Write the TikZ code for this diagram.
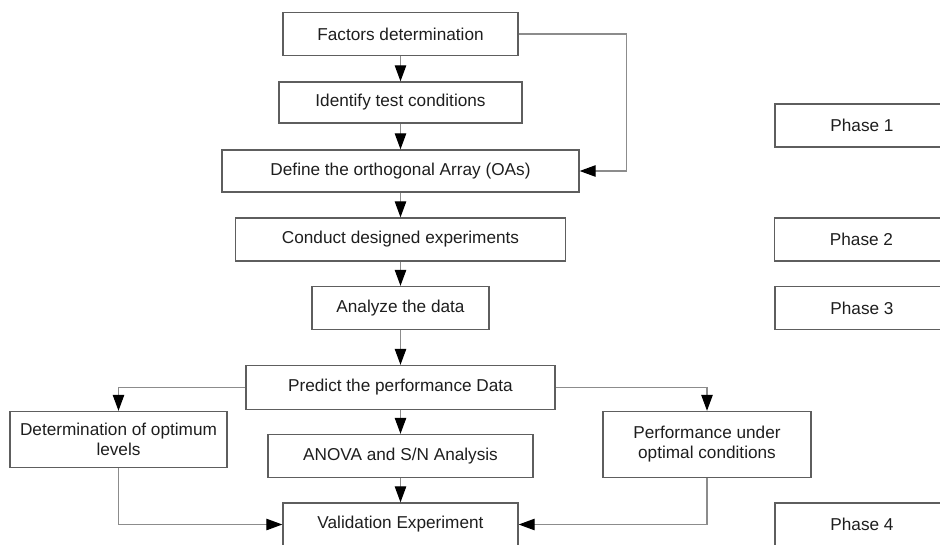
\documentclass[tikz,border=0pt]{standalone}
\usepackage{fontspec}
\setmainfont{Liberation Sans}
\usepackage{tikz}
\usetikzlibrary{shapes,arrows.meta,positioning}
\definecolor{boxgray}{HTML}{5E5E5E}
\definecolor{linegray}{HTML}{8C8C8C}
\definecolor{textgray}{HTML}{1E1E1E}
\tikzstyle{block} = [rectangle, draw=boxgray, line width=1.4pt, text=textgray,
    align=center, minimum height=43pt, inner sep=2pt,
    font=\fontsize{17.2}{20}\selectfont]
\tikzstyle{phaseblock} = [block, minimum width=174pt]
\tikzstyle{arrow} = [draw=linegray, line width=1.1pt,
    -{Triangle[length=16pt, width=11.5pt, color=black]}]

\begin{document}
\begin{tikzpicture}[x=1pt, y=1pt, node distance=68.5pt]
      \useasboundingbox (0,0) rectangle (940,-544);
      % Place nodes
      \node [block, minimum width=235pt] (factors) at (400.5,-34) {Factors determination};
      \node [block, minimum width=243pt, minimum height=41pt, below of=factors] (testConditions) {Identify test conditions};
      \node [block, minimum width=357pt, minimum height=42pt, below of=testConditions] (orthoArray) {Define the orthogonal Array (OAs)};
      \node [block, minimum width=330pt, below of=orthoArray] (conductExp) {Conduct designed experiments};
      \node [block, minimum width=177pt, below of=conductExp] (analyzeData) {Analyze the data};
      \node [block, minimum width=309pt, minimum height=44pt, below of=analyzeData, yshift=-11pt] (predictPerf) {Predict the performance Data};
      \node [block, minimum width=265pt, below of=predictPerf] (anovaSN) {ANOVA and S/N Analysis};
      \node [block, minimum width=235pt, below of=anovaSN] (validationExp) {Validation Experiment};

      \node [block, minimum width=217pt, minimum height=56pt, left of=anovaSN, node distance=282pt, yshift=16.5pt] (optLevels) {Determination of optimum\\levels};
      \node [block, minimum width=208pt, minimum height=66pt, right of=anovaSN, node distance=306.5pt, yshift=11.5pt] (optPerf) {Performance under\\optimal conditions};

      % phases
      \node [phaseblock, right of=testConditions, node distance=461.5pt, yshift=-23pt] (phaseOne) {Phase 1};
      \node [phaseblock, right of=conductExp, node distance=461pt] (phaseTwo) {Phase 2};
      \node [phaseblock, right of=analyzeData, node distance=461.5pt] (phaseThree) {Phase 3};
      \node [phaseblock, right of=validationExp, node distance=461.5pt] (phaseFour) {Phase 4};

      \path [arrow] (factors) -- (testConditions);
      \path [arrow] (testConditions) -- (orthoArray);
      \path [arrow] (factors.east) -- ++(108,0) |- (orthoArray.east);
      \path [arrow] (orthoArray) -- (conductExp);
      \path [arrow] (conductExp) -- (analyzeData);
      \path [arrow] (analyzeData) -- (predictPerf);
      %
      \path [arrow] (predictPerf.west) -| (optLevels.north);
      \path [arrow] (predictPerf) -- (anovaSN);
      \path [arrow] (predictPerf.east) -| (optPerf.north);
      \path [arrow] (anovaSN) -- (validationExp);
      \path [arrow] (optLevels.south) |- (validationExp.west);
      \path [arrow] (optPerf.south) |- (validationExp.east);

  \end{tikzpicture}
\end{document}
